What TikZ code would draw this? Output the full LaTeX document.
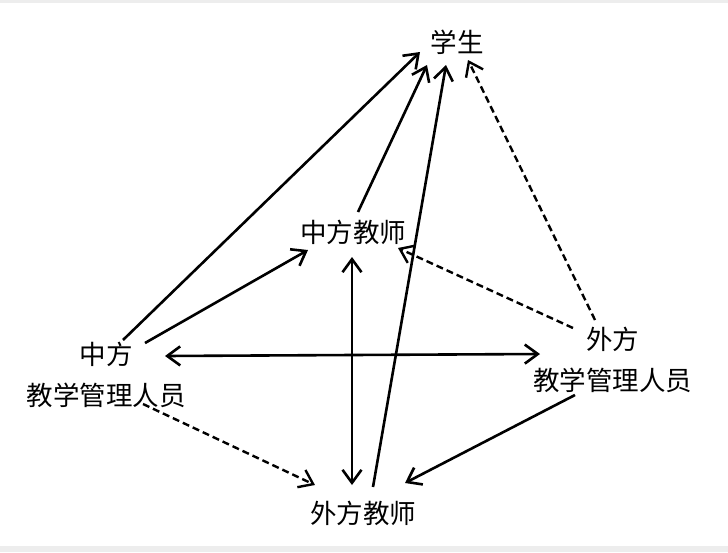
\documentclass[tikz,border=0pt]{standalone}
\usepackage{fontspec}
\newfontfamily\cjk{Noto Sans CJK SC}
\usetikzlibrary{arrows.meta,calc}
\begin{document}
\begin{tikzpicture}[x=1pt,y=-1pt,
  lbl/.style={font=\cjk\fontsize{26.5}{41}\selectfont,align=center,inner sep=0pt},
  conn/.style={line width=2.6pt,-{Straight Barb[length=13pt,width=19pt]}},
  biconn/.style={line width=2.6pt,{Straight Barb[length=13pt,width=19pt]}-{Straight Barb[length=13pt,width=19pt]}},
  dconn/.style={conn,line width=2.4pt,dash pattern=on 7pt off 4pt}]
\useasboundingbox (0,0) rectangle (728,552);
\fill[black!7] (0,0) rectangle (728,3);
\fill[black!7] (0,546) rectangle (728,552);
\node[lbl] (xs) at (457,42) {学生};
\node[lbl] (zj) at (353,232) {中方教师};
\node[lbl] (zg) at (106,375) {中方\\教学管理人员};
\node[lbl] (wg) at (612.5,359.5) {外方\\教学管理人员};
\node[lbl] (wj) at (363,513) {外方教师};
% to student
\draw[conn] ($(zg)+(17,-35)$) -- ($(xs)+(-37,10)$);
\draw[conn] ($(zj)+(5,-20)$) -- ($(xs)+(-30,23)$);
\draw[conn] ($(wj)+(10,-26)$) -- ($(xs)+(-11,23)$);
\draw[dconn] ($(wg)+(-17.5,-39.5)$) -- ($(xs)+(11,18)$);
% to Chinese teacher
\draw[conn] ($(zg)+(39,-32)$) -- ($(zj)+(-45,18)$);
\draw[dconn] ($(wg)+(-39.5,-31.5)$) -- ($(zj)+(45,16)$);
% managers
\draw[biconn] ($(zg)+(59,-19)$) -- ($(wg)+(-72.5,-5.5)$);
% teachers
\draw[biconn] ($(zj)+(-1,25)$) -- ($(wj)+(-11,-28)$);
% to foreign teacher
\draw[dconn] ($(zg)+(37,29)$) -- ($(wj)+(-48,-28)$);
\draw[conn] ($(wg)+(-37.5,35.5)$) -- ($(wj)+(42,-30)$);
\end{tikzpicture}
\end{document}
